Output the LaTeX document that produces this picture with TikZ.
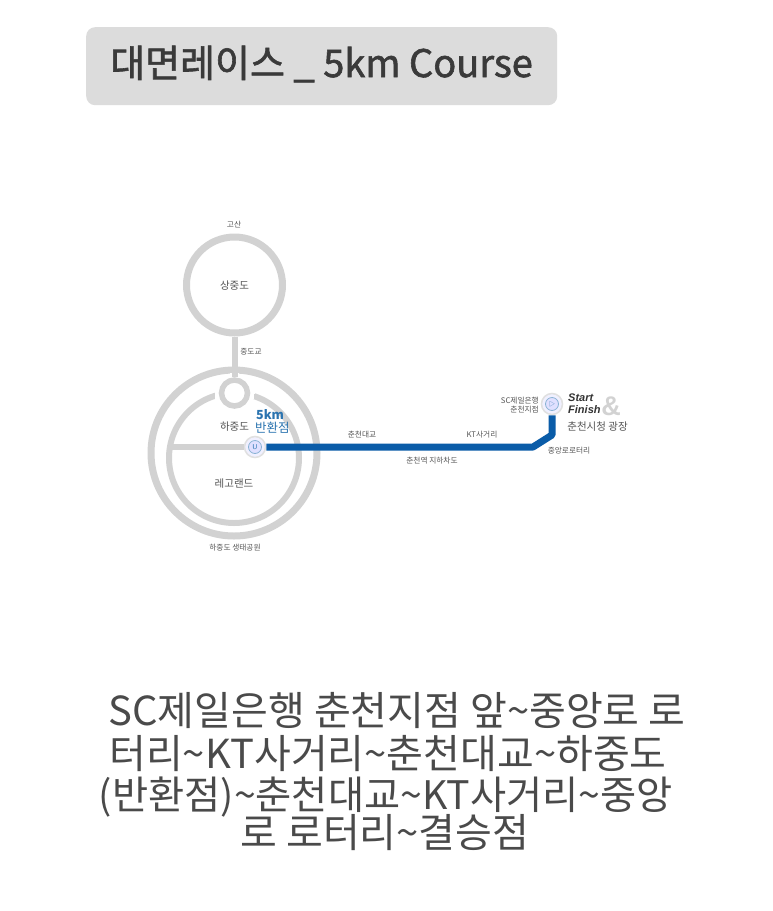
\documentclass[tikz,border=0pt]{standalone}
\usepackage{fontspec}
\setmainfont{Noto Sans CJK KR}
\newfontfamily\semibold[FakeBold=1.6]{Noto Sans CJK KR}
\newfontfamily\latinsans{Liberation Sans}
\definecolor{ring}{HTML}{D2D2D2}
\definecolor{routeblue}{HTML}{0A5CA8}
\definecolor{labelblue}{HTML}{2B74B0}
\definecolor{titlebg}{HTML}{DCDCDC}
\definecolor{titleink}{HTML}{3A3A3A}
\definecolor{bodyink}{HTML}{4A4A4A}
\definecolor{smallink}{HTML}{555555}
\tikzset{
  x=1pt,y=-1pt,
  ringline/.style={draw=ring,fill=none},
  tiny/.style={font=\fontsize{7.7}{9}\selectfont,text=smallink,inner sep=0pt,align=center},
  midlabel/.style={font=\fontsize{10.5}{12}\selectfont,text=smallink,inner sep=0pt,align=center},
  bodyline/.style={font=\fontsize{40}{46}\selectfont,text=bodyink,inner sep=0pt,anchor=base},
  route/.style={draw=routeblue,line width=7pt,line join=round},
  markerhalo/.style={circle,draw=white!88!black,fill=white!94!blue,line width=1.5pt,minimum size=21pt,inner sep=0pt},
  markercore/.style={circle,draw=labelblue!55,fill=white!88!blue,line width=.8pt,minimum size=13pt,inner sep=0pt},
}
\begin{document}
\begin{tikzpicture}
\useasboundingbox (0,0) rectangle (773,911);
\fill[white] (0,0) rectangle (773,911);
% title
\node[fill=titlebg,rounded corners=9pt,minimum width=471pt,minimum height=78pt,inner sep=0pt,anchor=north west] (titlebox) at (86,27) {};
\node[font=\semibold\fontsize{38}{42}\selectfont,text=titleink,inner sep=0pt,anchor=base] (title) at (321.5,77) {대면레이스 \_ 5km Course};
% rings
\node[circle,ringline,line width=7pt,minimum size=96pt,inner sep=0pt] (upper) at (234.5,285) {};
\node[circle,ringline,line width=7pt,minimum size=166pt,inner sep=0pt] (outer) at (234,453) {};
\node[circle,ringline,line width=6pt,minimum size=130pt,inner sep=0pt] (inner) at (234,458) {};
\node[circle,draw=white,fill=white,line width=0pt,minimum size=39pt,inner sep=0pt] (smallgap) at (234.5,393) {};
\node[circle,ringline,line width=5.5pt,minimum size=26pt,inner sep=0pt] (small) at (234.5,393) {};
\draw[ring,line width=6pt] (upper.south) -- (small.north);
% markers & route
\coordinate (bendA) at (533,447);
\coordinate (bendB) at (552,435);
\coordinate (westend) at (168,447);
\node[markerhalo] (turn) at (255,447) {};
\node[markerhalo] (start) at (552,404) {};
\draw[ring,line width=6.5pt] (westend) -- (turn.west);
\draw[route] (turn.east) -- (bendA) -- (bendB) -- (start.south);
\node[markercore] (turncore) at (255,447) {\fontsize{7}{7}\selectfont\color{labelblue}\textsf{U}};
\node[markercore] (startcore) at (552,404) {\fontsize{6}{6}\selectfont\color{labelblue}▷};
% labels
\node[tiny] (l1) at (234,225) {고산};
\node[midlabel] (l2) at (234.5,286) {상중도};
\node[tiny] (l3) at (251,352) {중도교};
\node[midlabel] (l4) at (234.5,427) {하중도};
\node[font=\bfseries\fontsize{12.5}{13.5}\selectfont,text=labelblue,inner sep=0pt,anchor=base west] (l5a) at (256,419) {5km};
\node[font=\fontsize{12.5}{13.5}\selectfont,text=labelblue,inner sep=0pt,anchor=base west] (l5b) at (255,432) {반환점};
\node[midlabel] (l6) at (234,484) {레고랜드};
\node[tiny] (l7) at (235,548) {하중도 생태공원};
\node[tiny] (l8) at (362,435) {춘천대교};
\node[tiny] (l9) at (432,461) {춘천역 지하차도};
\node[tiny] (l10) at (482,435) {KT사거리};
\node[tiny] (l11) at (569,451) {중앙로로터리};
\node[tiny,align=right,anchor=east] (l12) at (539,405) {SC제일은행\\춘천지점};
\node[font=\latinsans\bfseries\itshape\fontsize{11}{12}\selectfont,text=black!80,inner sep=0pt,align=left,anchor=west] (l13) at (568,404) {Start\\Finish};
\node[font=\latinsans\bfseries\fontsize{27}{27}\selectfont,text=ring,inner sep=0pt] (l14) at (611,406) {\&};
\node[midlabel] (l15) at (597.5,427) {춘천시청 광장};
% body text
\node[bodyline] (b1) at (397,725) {SC제일은행 춘천지점 앞\textasciitilde 중앙로 로};
\node[bodyline] (b2) at (388,768) {터리\textasciitilde KT사거리\textasciitilde 춘천대교\textasciitilde 하중도};
\node[bodyline,font=\fontsize{39.3}{46}\selectfont] (b3) at (386,809) {(반환점)\textasciitilde 춘천대교\textasciitilde KT사거리\textasciitilde 중앙};
\node[bodyline] (b4) at (385,847) {로 로터리\textasciitilde 결승점};
\end{tikzpicture}
\end{document}
